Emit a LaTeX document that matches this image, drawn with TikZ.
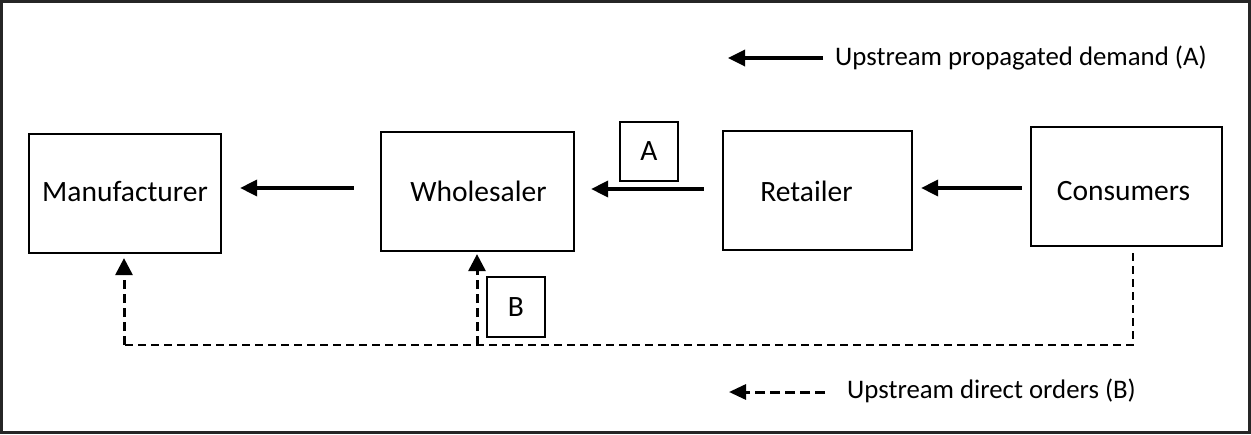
\documentclass[tikz,border=0pt]{standalone}
\usepackage{fontspec}
\setmainfont{Carlito}
\usetikzlibrary{arrows.meta}
\begin{document}
\begin{tikzpicture}[x=1pt,y=-1pt,
  box/.style={draw=black, line width=2.2pt, inner sep=0pt},
  boxtext/.style={font=\fontsize{29.5}{31}\selectfont, inner sep=0pt},
  arr/.style={line width=3.4pt, -{Triangle[length=17pt,width=16pt]}},
  darr/.style={line width=3pt, dash pattern=on 9pt off 5pt, -{Triangle[length=17pt,width=17pt]}},
  dline/.style={line width=2.8pt, dash pattern=on 8pt off 5pt},
  legtext/.style={anchor=west, inner sep=0pt, font=\fontsize{26.8}{28}\selectfont}]
\useasboundingbox (0,0) rectangle (1251,434);
\draw[line width=2.4pt, draw=black!85] (1.5,1.5) rectangle (1249.5,432.5);
% boxes
\node[box, minimum width=192pt, minimum height=119pt, label={[boxtext, yshift=2pt]center:Manufacturer}] (manu) at (125,193.5) {};
\node[box, minimum width=193pt, minimum height=119pt, label={[boxtext, xshift=1pt]center:Wholesaler}] (whole) at (477.5,191.5) {};
\node[box, minimum width=189pt, minimum height=119pt, label={[boxtext, xshift=-11pt, yshift=-1pt]center:Retailer}] (ret) at (817.5,190.5) {};
\node[box, minimum width=191pt, minimum height=119pt, label={[boxtext, xshift=-3pt, yshift=-5pt]center:Consumers}] (cons) at (1126.5,186.5) {};
\node[box, minimum width=58pt, minimum height=59pt, font=\fontsize{29.5}{31}\selectfont] (boxA) at (649,151.5) {A};
\node[box, minimum width=58pt, minimum height=60pt, font=\fontsize{29.5}{31}\selectfont] (boxB) at (516,307) {B};
% solid arrows
\draw[arr, shorten <=26pt, shorten >=18pt] (whole.west |- 0,188) -- (manu.east |- 0,188);
\draw[arr, shorten <=18pt, shorten >=16pt] (ret.west |- 0,189) -- (whole.east |- 0,189);
\draw[arr, shorten <=8pt, shorten >=8pt] (cons.west |- 0,188) -- (ret.east |- 0,188);
% dashed routes
\coordinate (c1) at (1133,345);
\coordinate (c2) at (124,345);
\coordinate (c3) at (477,345);
\draw[dline, shorten <=6pt] (cons.south -| c1) -- (c1) -- (c2);
\draw[darr, shorten >=4pt] (c2) -- (manu.south -| c2);
\draw[darr, shorten >=2pt] (c3) -- (whole.south -| c3);
% legend
\node[legtext] (legA) at (835,58) {Upstream propagated demand (A)};
\node[legtext] (legB) at (847,391) {Upstream direct orders (B)};
\coordinate (la) at (728,58);
\coordinate (lb) at (729,392);
\draw[arr, shorten <=12pt] (legA.west) -- (la);
\draw[line width=3pt, dash pattern=on 10pt off 5pt, -{Triangle[length=17pt,width=15pt]}, shorten <=22pt] (legB.west |- lb) -- (lb);
\end{tikzpicture}
\end{document}
